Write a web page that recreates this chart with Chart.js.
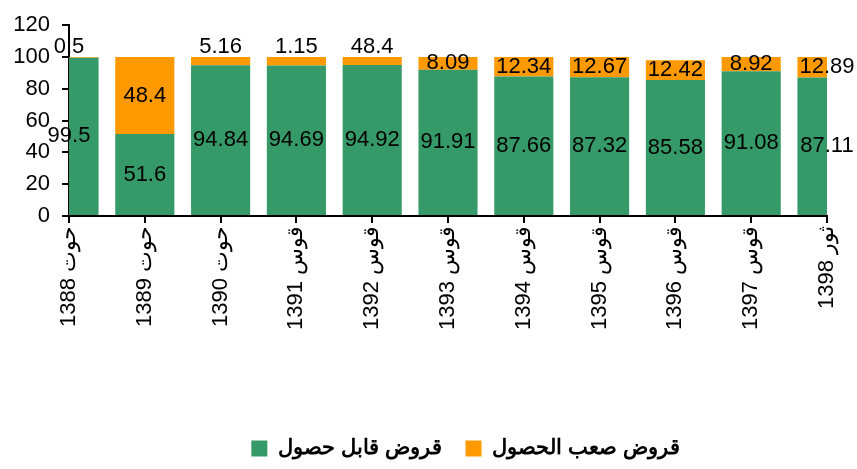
<!DOCTYPE html>
<html>
<head>
<meta charset="utf-8">
<script src="https://cdn.jsdelivr.net/npm/chart.js@4"></script>
<style>
  html, body { margin: 0; padding: 0; background: #fff; }
  #wrap { width: 857px; height: 469px; }
</style>
</head>
<body>
<div id="wrap"><canvas id="chart"></canvas></div>
<script>
const categories = ['1388 حوت', '1389 حوت', '1390 حوت', '1391 قوس', '1392 قوس', '1393 قوس',
  '1394 قوس', '1395 قوس', '1396 قوس', '1397 قوس', '1398 ثور'];

// green part (collectable loans)
const collectable = [99.5, 51.6, 94.84, 94.69, 94.92, 91.91, 87.66, 87.32, 85.58, 91.08, 87.11];
// orange part (hard to collect) - heights as drawn
const hardToCollect = [0.5, 48.4, 5.16, 5.31, 5.08, 8.09, 12.34, 12.67, 12.42, 8.92, 12.89];
// label text as printed on the picture
const collectableLabels = ['99.5', '51.6', '94.84', '94.69', '94.92', '91.91', '87.66', '87.32', '85.58', '91.08', '87.11'];
const hardLabels = ['0.5', '48.4', '5.16', '1.15', '48.4', '8.09', '12.34', '12.67', '12.42', '8.92', '12.89'];

const yTicks = [0, 20, 40, 60, 80, 100, 120];

const GREEN = '#359A68';
const ORANGE = '#FF9900';
const FONT = '"Liberation Sans", Arial, sans-serif';

// draw the value labels on each segment
const segmentLabels = {
  id: 'segmentLabels',
  afterDatasetsDraw(chart) {
    const ctx = chart.ctx;
    ctx.save();
    ctx.font = '22px ' + FONT;
    ctx.fillStyle = '#000';
    ctx.textAlign = 'center';
    chart.data.datasets.forEach((ds, i) => {
      const meta = chart.getDatasetMeta(i);
      meta.data.forEach((bar, j) => {
        const txt = ds.labelText[j];
        const h = Math.abs(bar.base - bar.y);
        if (h < 10) {
          ctx.textBaseline = 'bottom';
          ctx.fillText(txt, bar.x, bar.y + 1);
        } else {
          ctx.textBaseline = 'middle';
          ctx.fillText(txt, bar.x, (bar.y + bar.base) / 2);
        }
      });
    });
    ctx.restore();
  }
};

// legend sits a bit right of the plot centre
const legendShift = {
  id: 'legendShift',
  afterLayout(chart) {
    chart.legend.left += 52;
    chart.legend.right += 52;
  }
};

new Chart(document.getElementById('chart'), {
  type: 'bar',
  data: {
    labels: categories,
    datasets: [
      {
        label: 'قروض قابل حصول',
        data: collectable,
        labelText: collectableLabels,
        backgroundColor: GREEN,
        categoryPercentage: 0.78,
        barPercentage: 1
      },
      {
        label: 'قروض صعب الحصول',
        data: hardToCollect,
        labelText: hardLabels,
        backgroundColor: ORANGE,
        categoryPercentage: 0.78,
        barPercentage: 1
      }
    ]
  },
  options: {
    responsive: true,
    maintainAspectRatio: false,
    animation: false,
    layout: { padding: { left: 0, right: 30, top: 21, bottom: 0 } },
    plugins: {
      tooltip: { enabled: false },
      legend: {
        position: 'bottom',
        labels: {
          boxWidth: 16,
          boxHeight: 16,
          padding: 24,
          color: '#000',
          font: { family: FONT, size: 21, weight: 'bold' }
        }
      }
    },
    scales: {
      x: {
        stacked: true,
        offset: false,
        grid: { display: true, drawOnChartArea: false, offset: false, color: '#000', lineWidth: 2, tickLength: 7 },
        border: { display: true, color: '#000', width: 2 },
        ticks: {
          autoSkip: false,
          minRotation: 90,
          maxRotation: 90,
          color: '#000',
          padding: 3,
          font: { family: FONT, size: 22 }
        },
        afterFit(scale) { scale.height = 198; }
      },
      y: {
        stacked: true,
        min: 0,
        max: 120,
        afterBuildTicks(scale) { scale.ticks = yTicks.map(v => ({ value: v })); },
        grid: { display: true, drawOnChartArea: false, color: '#000', lineWidth: 2, tickLength: 7 },
        border: { display: true, color: '#000', width: 2 },
        ticks: {
          color: '#000',
          padding: 12,
          font: { family: FONT, size: 22 }
        },
        afterFit(scale) { scale.width = 69; }
      }
    }
  },
  plugins: [segmentLabels, legendShift]
});
</script>
</body>
</html>
